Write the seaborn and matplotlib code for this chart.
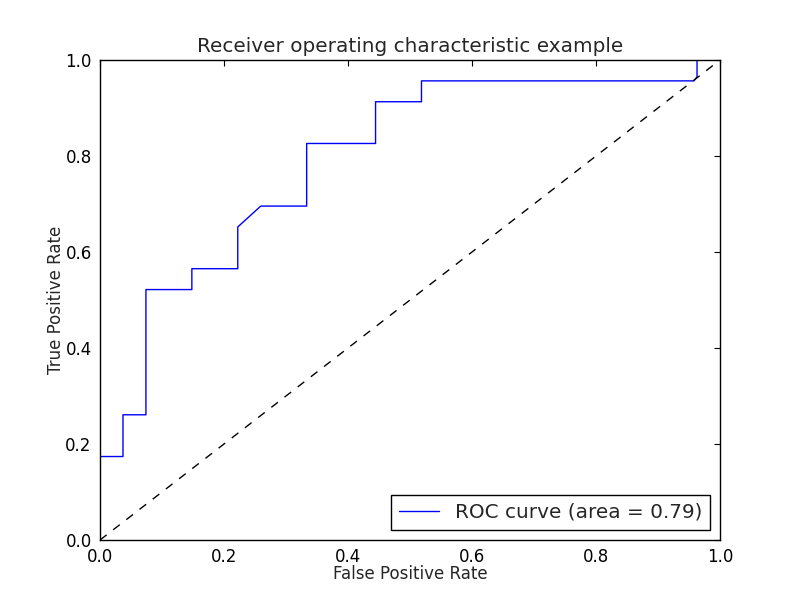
import matplotlib
matplotlib.use("Agg")
import matplotlib.pyplot as plt
import pandas as pd
import seaborn as sns

sns.set_style("white")
plt.rcParams['font.family'] = ['DejaVu Sans']

# ROC points (fpr steps of 1/27, tpr steps of 1/23)
fpr = [0, 0, 1/27, 1/27, 2/27, 2/27, 4/27, 4/27, 6/27, 6/27, 7/27,
       9/27, 9/27, 12/27, 12/27, 14/27, 14/27, 0.958, 26/27, 26/27, 1.0]
tpr = [0, 4/23, 4/23, 6/23, 6/23, 12/23, 12/23, 13/23, 13/23, 15/23, 16/23,
       16/23, 19/23, 19/23, 21/23, 21/23, 22/23, 22/23, 0.965, 1.0, 1.0]
roc_auc = 0.79

df = pd.DataFrame({"fpr": fpr, "tpr": tpr})

fig = plt.figure(figsize=(8, 6), dpi=100)
ax = fig.add_axes([0.125, 0.1, 0.775, 0.8])

sns.lineplot(data=df, x="fpr", y="tpr", sort=False, estimator=None,
             color="blue", linewidth=1.0, ax=ax,
             label="ROC curve (area = %0.2f)" % roc_auc)
ax.plot([0, 1], [0, 1], color="black", linestyle=(0, (6, 6)), linewidth=1.0)

ax.set_xlim(0.0, 1.0)
ax.set_ylim(0.0, 1.0)
ax.set_xticks([0.0, 0.2, 0.4, 0.6, 0.8, 1.0])
ax.set_yticks([0.0, 0.2, 0.4, 0.6, 0.8, 1.0])
ax.set_xticklabels(["0.0", "0.2", "0.4", "0.6", "0.8", "1.0"])
ax.set_yticklabels(["0.0", "0.2", "0.4", "0.6", "0.8", "1.0"])
ax.tick_params(direction="in", length=4, width=0.8, top=True, right=True,
               labelsize=12, colors="black", pad=6)
for s in ax.spines.values():
    s.set_color("black")
    s.set_linewidth(1.0)

ax.set_xlabel("False Positive Rate", fontsize=12, labelpad=-1)
ax.set_ylabel("True Positive Rate", fontsize=12, labelpad=0)
ax.set_title("Receiver operating characteristic example", fontsize=14.4, pad=6)

leg = ax.legend(loc="lower right", fontsize=14.4, fancybox=False,
                framealpha=1, edgecolor="black", borderaxespad=0.5,
                handlelength=2, borderpad=0.4)
leg.get_frame().set_linewidth(1.0)

fig.savefig("out.png", dpi=100, facecolor="white")
